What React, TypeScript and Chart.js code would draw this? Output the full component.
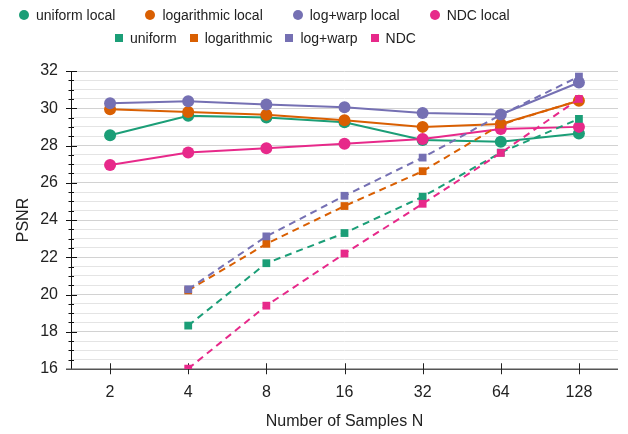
import React, { useEffect, useRef } from "react";
import { Chart, registerables } from "chart.js";

Chart.register(...registerables);

const samples = ["2", "4", "8", "16", "32", "64", "128"];

const uniformLocal = [28.55, 29.6, 29.5, 29.25, 28.3, 28.2, 28.65];
const logarithmicLocal = [29.95, 29.8, 29.65, 29.35, 29.0, 29.15, 30.4];
const logWarpLocal = [30.27, 30.38, 30.2, 30.05, 29.75, 29.67, 31.38];
const ndcLocal = [26.95, 27.62, 27.85, 28.1, 28.35, 28.88, 29.0];

const uniform = [null, 18.33, 21.68, 23.3, 25.25, 27.62, 29.43];
const logarithmic = [null, 20.22, 22.72, 24.75, 26.62, 29.12, 30.42];
const logWarp = [null, 20.28, 23.12, 25.3, 27.35, 29.65, 31.7];
const ndc = [null, 16.02, 19.4, 22.2, 24.87, 27.6, 30.5];

const yMin = 16;
const yMax = 32;
const yMinorStep = 0.5;
const yMajorStep = 2;

const GREEN = "#1b9e77";
const ORANGE = "#d95f02";
const PURPLE = "#7570b3";
const PINK = "#e7298a";

const localSeries = [
  { label: "uniform local", data: uniformLocal, color: GREEN },
  { label: "logarithmic local", data: logarithmicLocal, color: ORANGE },
  { label: "log+warp local", data: logWarpLocal, color: PURPLE },
  { label: "NDC local", data: ndcLocal, color: PINK },
];
const dashedSeries = [
  { label: "uniform", data: uniform, color: GREEN },
  { label: "logarithmic", data: logarithmic, color: ORANGE },
  { label: "log+warp", data: logWarp, color: PURPLE },
  { label: "NDC", data: ndc, color: PINK },
];

const FONT = "'Liberation Sans', Arial, Helvetica, sans-serif";

const axisMarks = {
  id: "axisMarks",
  beforeDatasetsDraw(chart: any) {
    const { ctx, chartArea, scales } = chart;
    const x = scales.x;
    const y = scales.y;
    ctx.save();
    ctx.lineWidth = 1;
    // y tick marks (crossing the axis)
    ctx.strokeStyle = "#111";
    y.ticks.forEach((t: any) => {
      const py = Math.round(y.getPixelForValue(t.value)) + 0.5;
      const major = Math.abs(t.value % yMajorStep) < 1e-6;
      ctx.beginPath();
      ctx.moveTo(chartArea.left - (major ? 5 : 2.5), py);
      ctx.lineTo(chartArea.left + (major ? 6 : 3), py);
      ctx.stroke();
    });
    // y axis line
    const ax = Math.round(chartArea.left) + 0.5;
    ctx.beginPath();
    ctx.moveTo(ax, chartArea.top);
    ctx.lineTo(ax, chartArea.bottom);
    ctx.stroke();
    // x axis line
    ctx.strokeStyle = "#555";
    ctx.lineWidth = 1.5;
    const by = Math.round(chartArea.bottom) + 0.25;
    ctx.beginPath();
    ctx.moveTo(chartArea.left - 5, by);
    ctx.lineTo(chartArea.right, by);
    ctx.stroke();
    // x tick marks
    ctx.lineWidth = 1;
    ctx.strokeStyle = "#222";
    x.ticks.forEach((_t: any, i: number) => {
      const px = Math.round(x.getPixelForTick(i)) + 0.5;
      ctx.beginPath();
      ctx.moveTo(px, by - 6);
      ctx.lineTo(px, by + 5);
      ctx.stroke();
    });
    ctx.restore();
  },
};

function LegendRow({ items, shape, top, left, gapMarker, gapItem }: any) {
  return (
    <div
      style={{
        position: "absolute",
        top,
        left,
        display: "flex",
        alignItems: "center",
        height: 16,
        fontFamily: FONT,
        fontSize: 14,
        color: "#222",
        whiteSpace: "nowrap",
      }}
    >
      {items.map((it: any, i: number) => (
        <div
          key={it.label}
          style={{ display: "flex", alignItems: "center", marginLeft: i === 0 ? 0 : gapItem }}
        >
          <span
            style={{
              display: "inline-block",
              width: shape === "circle" ? 10 : 8,
              height: shape === "circle" ? 10 : 8,
              borderRadius: shape === "circle" ? "50%" : 0,
              background: it.color,
              marginRight: gapMarker,
            }}
          />
          <span>{it.label}</span>
        </div>
      ))}
    </div>
  );
}

export default function App() {
  const canvasRef = useRef<HTMLCanvasElement | null>(null);

  useEffect(() => {
    const canvas = canvasRef.current;
    if (!canvas) return;
    const datasets: any[] = [];
    localSeries.forEach((s, i) => {
      datasets.push({
        label: s.label,
        data: s.data,
        borderColor: s.color,
        backgroundColor: s.color,
        borderWidth: 2,
        pointRadius: 6,
        pointHoverRadius: 6,
        pointBorderWidth: 0,
        pointStyle: "circle",
        tension: 0,
        clip: 0,
        order: 7 - i,
      });
    });
    dashedSeries.forEach((s, i) => {
      datasets.push({
        label: s.label,
        data: s.data,
        borderColor: s.color,
        backgroundColor: s.color,
        borderWidth: 2,
        borderDash: [7, 5],
        pointRadius: 5.5,
        pointHoverRadius: 5.5,
        pointBorderWidth: 0,
        pointStyle: "rect",
        tension: 0,
        clip: 0,
        spanGaps: false,
        order: 3 - i,
      });
    });

    const chart = new Chart(canvas, {
      type: "line",
      data: { labels: samples, datasets },
      plugins: [axisMarks],
      options: {
        animation: false,
        responsive: false,
        devicePixelRatio: 1,
        layout: { padding: { top: 71, right: 10, left: 0, bottom: 0 } },
        plugins: {
          legend: { display: false },
          tooltip: { enabled: false },
        },
        scales: {
          x: {
            type: "category",
            offset: true,
            grid: { display: false, drawTicks: false },
            border: { display: false },
            ticks: {
              color: "#222",
              font: { family: FONT, size: 16 },
              padding: 14,
              maxRotation: 0,
            },
            title: {
              display: true,
              text: "Number of Samples N",
              color: "#222",
              font: { family: FONT, size: 16 },
              padding: { top: 0, bottom: 3 },
            },
            afterFit(scale: any) {
              scale.height = 65;
            },
          },
          y: {
            type: "linear",
            min: yMin,
            max: yMax,
            grid: {
              drawTicks: false,
              lineWidth: 1,
              color: (ctx: any) =>
                ctx.tick && Math.abs(ctx.tick.value % yMajorStep) < 1e-6 ? "#d2d2d2" : "#e4e4e4",
            },
            border: { display: false },
            ticks: {
              stepSize: yMinorStep,
              maxTicksLimit: 100,
              autoSkip: false,
              color: "#222",
              font: { family: FONT, size: 16 },
              padding: 13,
              callback: (v: any) => (Math.abs(Number(v) % yMajorStep) < 1e-6 ? String(v) : ""),
            },
            title: {
              display: true,
              text: "PSNR",
              color: "#222",
              font: { family: FONT, size: 16 },
              padding: { top: 14, bottom: 0 },
            },
            afterFit(scale: any) {
              scale.width = 71;
            },
          },
        },
      } as any,
    });
    return () => chart.destroy();
  }, []);

  return (
    <div
      style={{
        position: "absolute",
        left: 0,
        top: 0,
        width: 628,
        height: 434,
        background: "#fff",
        overflow: "hidden",
      }}
    >
      <canvas ref={canvasRef} width={628} height={434} style={{ width: 628, height: 434, display: "block" }} />
      <LegendRow items={localSeries} shape="circle" top={7} left={19} gapMarker={7} gapItem={30} />
      <LegendRow items={dashedSeries} shape="rect" top={30} left={115} gapMarker={7} gapItem={13} />
    </div>
  );
}
